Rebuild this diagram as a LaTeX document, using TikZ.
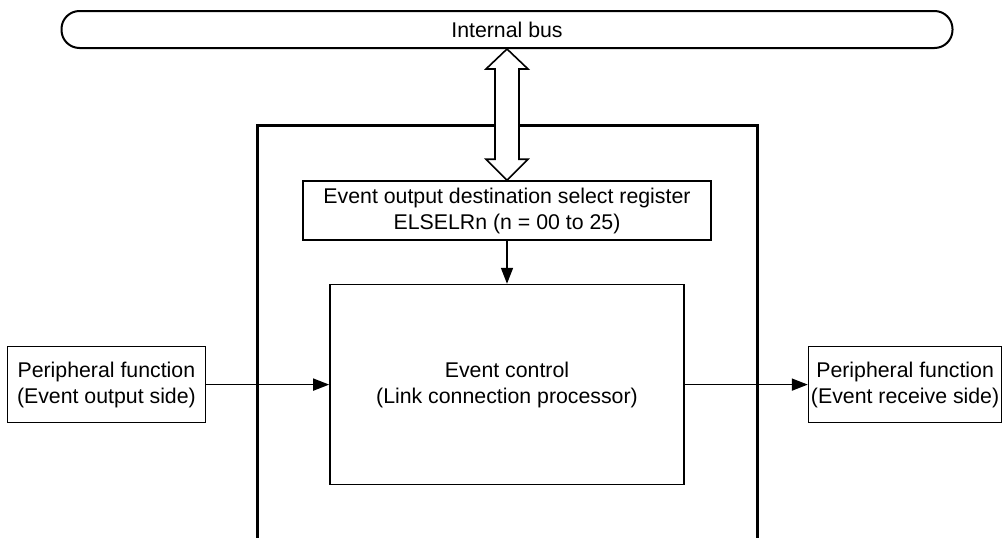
\documentclass[tikz,border=0pt]{standalone}
\usepackage{fontspec}
\setmainfont{Liberation Sans}
\usetikzlibrary{positioning,arrows.meta,calc}
\tikzset{
  blk/.style={draw,line width=1.6pt,align=center,fill=white,inner sep=0pt},
  busline/.style={draw,line width=2pt,rounded corners=18pt,
            minimum width=891pt,minimum height=37pt},
  sig/.style={-{Triangle[length=16pt,width=12pt]},line width=1.6pt},
  wall/.style={line width=3pt},
  dbl/.style={draw,fill=white,line width=1.6pt,line join=miter},
}

\begin{document}
\begin{tikzpicture}[x=1pt,y=-1pt,every node/.style={font=\fontsize{21.3}{26}\selectfont}]
  \useasboundingbox (0,0) rectangle (1002,538);
  \node[busline] (bus) at (507,29.5) {Internal bus};
  % open frame round the ELC
  \coordinate (wallL) at (257,538);
  \coordinate (wallT) at (757,125);
  \coordinate (wallR) at (757,538);
  \draw[wall] (wallL) |- (wallT) -- (wallR);
  \node[blk,minimum width=408pt,minimum height=59pt] (reg) at (507,210.5)
        {Event output destination select register\\ELSELRn (n = 00 to 25)};
  \node[blk,minimum width=354pt,minimum height=200pt,below=43pt of reg]
        (ctrl) {Event control\\(Link connection processor)};
  \node[blk,minimum width=198pt,minimum height=76pt,left=123pt of ctrl]
        (src) {Peripheral function\\(Event output side)};
  \node[blk,minimum width=193pt,minimum height=76pt,right=123pt of ctrl]
        (dst) {Peripheral function\\(Event receive side)};
  \draw[sig] (src) -- (ctrl);
  \draw[sig] (ctrl) -- (dst);
  \draw[sig] (reg) -- (ctrl);
  % bus access
  \draw[dbl] (bus.south) -- ++(21,20) -- ++(-9,0) -- ($(reg.north)+(12,-21)$)
        -- ++(9,0) -- (reg.north) -- ++(-21,-21) -- ++(9,0)
        -- ($(bus.south)+(-12,20)$) -- ++(-9,0) -- cycle;
\end{tikzpicture}
\end{document}
